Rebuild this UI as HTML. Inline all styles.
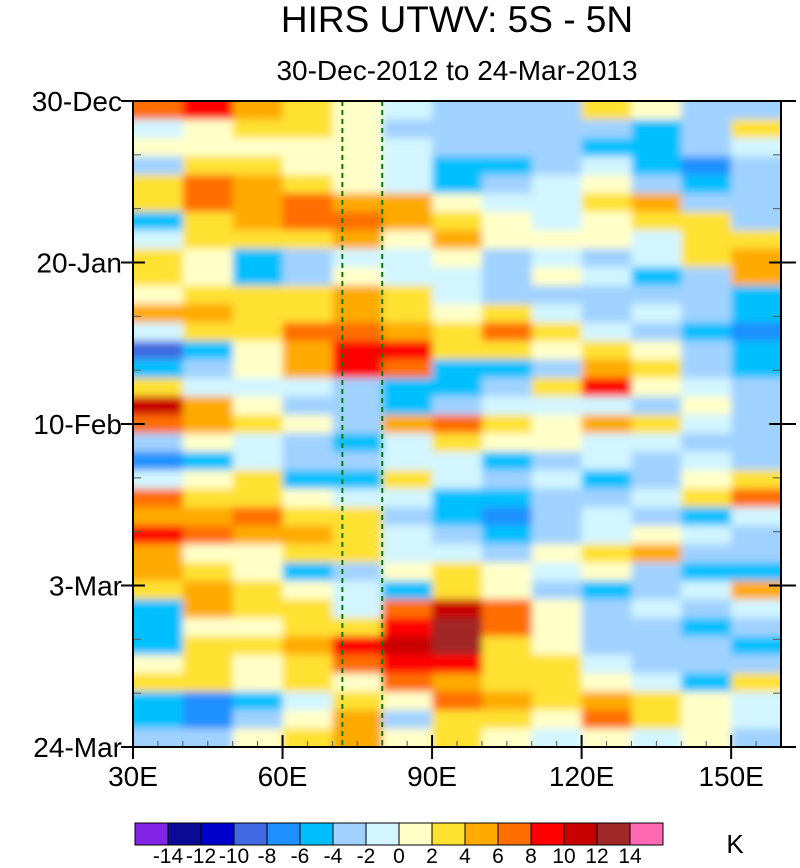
<!DOCTYPE html>
<html><head><meta charset="utf-8"><style>
html,body{margin:0;padding:0;background:#fff;}
svg text{font-family:"Liberation Sans",sans-serif;fill:#000;}
</style></head><body>
<svg id="chart" width="800" height="863" xmlns="http://www.w3.org/2000/svg">
<defs>
<clipPath id="plotclip"><rect x="133" y="101" width="648" height="646"/></clipPath>
<filter id="soft" x="120" y="90" width="680" height="670" filterUnits="userSpaceOnUse"><feGaussianBlur stdDeviation="4"/></filter>
</defs>
<text x="457" y="32" font-size="37" text-anchor="middle">HIRS UTWV: 5S - 5N</text>
<text x="457" y="80" font-size="28" text-anchor="middle">30-Dec-2012 to 24-Mar-2013</text>
<g id="heat" clip-path="url(#plotclip)"><g id="cells" filter="url(#soft)"></g></g>
<g id="axes"></g>
<g id="cbar"></g>
<text x="735" y="853" font-size="26" text-anchor="middle">K</text>
</svg>
<script>
const lonCenters = [35,45,55,65,75,85,95,105,115,125,135,145,155];
const dayStep = 2.4;
const values = [
[7,9,5,3,1,-1,-3,-3,-3,3,1,-3,-3],
[-1,1,3,3,1,-3,-3,-3,-3,-3,-5,-3,3],
[1,1,1,1,1,-1,-3,-3,-3,-5,-5,-3,-1],
[-3,3,3,1,1,-1,-5,-5,-3,-1,-5,-7,-3],
[3,7,5,3,1,-1,-5,-3,-1,1,-3,-5,-3],
[3,7,5,7,5,5,1,-1,-1,3,5,-3,-3],
[-5,3,5,7,7,5,3,1,-1,1,3,3,-3],
[-1,3,3,3,5,1,5,1,1,1,-1,3,3],
[3,1,-5,-3,-1,-1,1,-3,-1,-3,-1,3,5],
[3,1,-5,-3,1,-1,-1,-3,1,-1,-5,-3,5],
[1,3,3,3,5,3,-1,-3,-3,-3,-3,-3,-5],
[5,5,3,3,5,3,1,3,-1,-3,-1,-3,-5],
[-1,3,3,7,7,5,3,7,3,-1,-3,-5,-7],
[-9,-5,1,5,9,9,3,3,1,3,1,-3,-5],
[-5,-3,1,5,9,7,-5,-5,-3,5,3,-3,-5],
[3,-1,-1,-1,-3,-5,-5,-3,3,9,1,-1,-3],
[11,5,1,-3,-3,-5,-3,-1,-1,-1,-3,1,-3],
[7,5,3,1,-3,5,7,3,1,5,3,-1,-3],
[-3,1,-1,-3,-5,-1,3,1,1,-1,-1,-3,-3],
[-7,-5,-1,-3,-3,-1,-1,-5,-3,-1,-3,-1,-3],
[-1,1,3,-5,-5,3,-1,-3,-1,-5,-3,1,3],
[7,3,3,1,-1,-1,-5,-5,-3,-3,-1,3,7],
[5,5,7,3,3,-3,-5,-7,-3,-1,-3,-5,-1],
[9,7,5,5,3,-1,-3,-5,-3,-1,1,-1,-3],
[5,1,1,3,3,-1,-1,-3,1,3,5,-3,-3],
[5,3,1,-5,-3,1,3,1,-1,1,-3,-5,-5],
[3,5,3,1,-1,-5,3,1,-3,-5,-3,-1,5],
[-5,5,3,3,-1,7,11,7,1,-3,-1,-3,-1],
[-5,1,1,3,3,9,13,7,1,-3,-3,-5,-3],
[-5,3,3,5,9,11,13,3,1,-3,-3,-3,-5],
[1,3,1,3,7,9,9,3,3,-1,-3,-3,-3],
[3,3,1,3,1,7,5,3,3,1,-1,-5,3],
[-5,-7,-5,-1,3,1,7,5,3,5,3,1,-1],
[-5,-7,-3,1,5,-3,3,3,1,7,3,1,-1],
[-3,-3,1,3,5,1,3,1,-1,1,-1,1,-3]
];
const levels = [-14,-12,-10,-8,-6,-4,-2,0,2,4,6,8,10,12,14];
const levelLabels = ["-14","-12","-10","-8","-6","-4","-2","0","2","4","6","8","10","12","14"];
const colors = ["#8224e3","#0a0a96","#0000cd","#4169e1","#1e90ff","#00bfff","#a0d2ff","#d2f5ff","#ffffc8","#ffe132","#ffaa00","#ff6e00","#ff0000","#c80000","#a02828","#ff69b4"];
const xTicks = [30,60,90,120,150];
const xTickLabels = ["30E","60E","90E","120E","150E"];
const yTicks = [0,21,42,63,84];
const yTickLabels = ["30-Dec","20-Jan","10-Feb","3-Mar","24-Mar"];
const refLons = [72,80];

const NS="http://www.w3.org/2000/svg";
const X0=133,X1=781,Y0=101,Y1=747,LON0=30,LON1=160,DAYS=84;
const xs = lon => X0+(lon-LON0)/(LON1-LON0)*(X1-X0);
const ys = d => Y0+d/DAYS*(Y1-Y0);
function colorFor(v){let i=0;while(i<levels.length&&v>=levels[i])i++;return colors[i];}
function mk(tag,attrs,parent){const e=document.createElementNS(NS,tag);for(const k in attrs)e.setAttribute(k,attrs[k]);parent.appendChild(e);return e;}

const cells=document.getElementById('cells');
const dLon=lonCenters[1]-lonCenters[0];
values.forEach((row,r)=>{
  row.forEach((v,c)=>{
    let xa=xs(lonCenters[c]-dLon/2), xb=xs(lonCenters[c]+dLon/2);
    let ya=ys(r*dayStep), yb=ys((r+1)*dayStep);
    if(c===0) xa-=15; if(c===row.length-1) xb+=15;
    if(r===0) ya-=15; if(r===values.length-1) yb+=15;
    const e=mk('rect',{x:xa,y:ya,width:xb-xa+0.5,height:yb-ya+0.5,fill:colorFor(v)},cells);
    
    
  });
});

const axes=document.getElementById('axes');
refLons.forEach(l=>{
  const e=mk('line',{x1:xs(l),x2:xs(l),y1:Y0,y2:Y1,stroke:'#008000','stroke-width':2,'stroke-dasharray':'5,4'},axes);
  
  
});
for(let d=0;d<=DAYS;d+=7){
  mk('line',{x1:X0,x2:X0+8,y1:ys(d),y2:ys(d),stroke:'#555','stroke-width':1},axes);
  mk('line',{x1:X1-8,x2:X1,y1:ys(d),y2:ys(d),stroke:'#555','stroke-width':1},axes);
}
for(let l=35;l<LON1;l+=5){
  mk('line',{x1:xs(l),x2:xs(l),y1:Y1,y2:Y1-6,stroke:'#555','stroke-width':1},axes);
}
const frame=mk('rect',{x:X0,y:Y0,width:X1-X0,height:Y1-Y0,fill:'none',stroke:'#000','stroke-width':2},axes);


yTicks.forEach((d,i)=>{
  mk('line',{x1:X0-12,x2:X0+12,y1:ys(d),y2:ys(d),stroke:'#000','stroke-width':2},axes);
  mk('line',{x1:X1-12,x2:X1+15,y1:ys(d),y2:ys(d),stroke:'#000','stroke-width':2},axes);
  const t=mk('text',{x:X0-11,y:ys(d)+10,'font-size':28,'text-anchor':'end'},axes);
  t.textContent=yTickLabels[i];
  
  
});
xTicks.forEach((l,i)=>{
  mk('line',{x1:xs(l),x2:xs(l),y1:Y1-12,y2:Y1+12,stroke:'#000','stroke-width':2},axes);
  const t=mk('text',{x:xs(l),y:786,'font-size':28,'text-anchor':'middle'},axes);
  t.textContent=xTickLabels[i];
  
  
});

const cbar=document.getElementById('cbar');
const CB0=135,CBW=(663-135)/colors.length;
colors.forEach((c,i)=>{
  const e=mk('rect',{x:CB0+i*CBW,y:823,width:CBW,height:22,fill:c,stroke:'#000','stroke-width':1},cbar);
  
  
});
levelLabels.forEach((s,i)=>{
  const t=mk('text',{x:CB0+(i+1)*CBW,y:863,'font-size':21,'text-anchor':'middle'},cbar);
  t.textContent=s;
  
  
});
</script>
</body></html>
